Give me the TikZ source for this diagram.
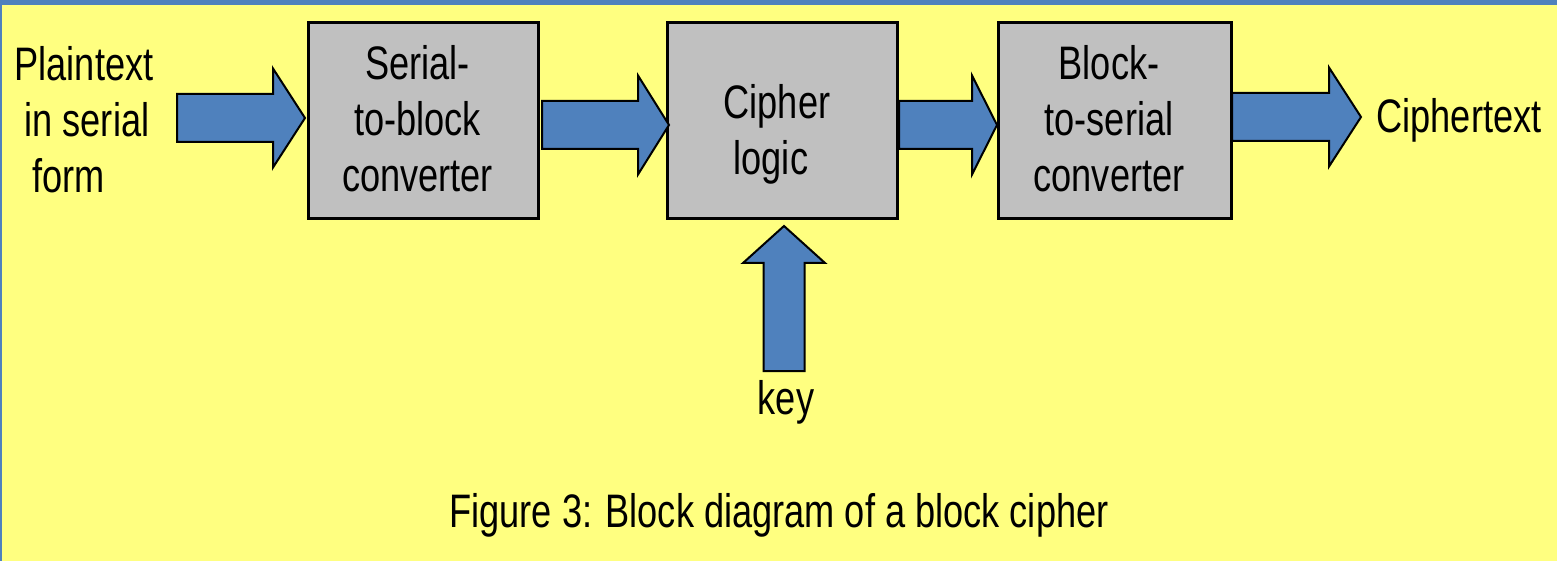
\documentclass[tikz,border=0pt]{standalone}
\usepackage{fontspec}
\usetikzlibrary{calc}
\newfontfamily\diagfont[FakeStretch=0.77]{Liberation Sans}

\definecolor{paper}{HTML}{FFFF80}
\definecolor{frameblue}{HTML}{4F81BD}
\definecolor{arrowblue}{HTML}{4F81BD}
\definecolor{boxgray}{HTML}{C0C0C0}

\tikzset{
  blk/.style={draw=black, fill=boxgray, line width=1.5pt, rectangle,
    minimum height=98pt, inner sep=0pt},
  txt/.style={font=\diagfont\fontsize{23.5}{28}\selectfont, align=center,
    inner sep=0pt, text=black},
  fatarrow/.style={draw=black, fill=arrowblue, line width=1pt, line join=miter},
}

% horizontal block arrow: tail coordinate, tip coordinate, head length
\newcommand\harrow[3]{%
  \path[fatarrow] let \p1=(#1), \p2=(#2) in
    (\x1,\y1+12pt) -- (\x2-#3,\y1+12pt) -- (\x2-#3,\y1+24.75pt) -- (\x2,\y1)
    -- (\x2-#3,\y1-24.75pt) -- (\x2-#3,\y1-12pt) -- (\x1,\y1-12pt) -- cycle;}
% vertical block arrow pointing up: tail coordinate, tip coordinate
\newcommand\uparrowshape[2]{%
  \path[fatarrow] let \p1=(#1), \p2=(#2) in
    (\x1-10.25pt,\y1) -- (\x1-10.25pt,\y2-18.5pt) -- (\x1-20.5pt,\y2-18.5pt)
    -- (\x1,\y2) -- (\x1+20.5pt,\y2-18.5pt) -- (\x1+10.25pt,\y2-18.5pt)
    -- (\x1+10.25pt,\y1) -- cycle;}

\begin{document}
\begin{tikzpicture}[x=0.5pt,y=-0.5pt]
  % page, frame
  \useasboundingbox (0,0) rectangle (1557,561);
  \fill[paper] (0,0) rectangle (1557,561);
  \fill[frameblue] (0,0) rectangle (1557,5);
  \fill[frameblue] (0,0) rectangle (1.5,561);

  % processing blocks
  \node[blk, minimum width=115pt] (s2b) at (423.5,120.5) {};
  \node[blk, minimum width=115pt] (ciph) at (782.5,120.5) {};
  \node[blk, minimum width=116.5pt] (b2s) at (1115,120.5) {};

  % labels
  \node[txt, align=left] (plain) at (84,119.5)
    {Plaintext\\\hspace*{5pt}in serial\\\hspace*{9pt}form};
  \node[txt] (s2bt) at (417.5,118.5) {Serial-\\to-block\\converter};
  \node[txt, align=left] (cipht) at (777,134) {Cipher\\\hspace*{5pt}logic};
  \node[txt] (b2st) at (1109,118.5) {Block-\\to-serial\\converter};
  \node[txt] (out) at (1459,120) {Ciphertext};
  \node[txt] (key) at (786,402.5) {key};
  \node[txt] (cap) at (779,515.5) {Figure 3: Block diagram of a block cipher};

  % arrow end points
  \coordinate (a1s) at (177,118);  \coordinate (a1e) at (305,118);
  \coordinate (a2s) at (542,125);  \coordinate (a2e) at (669,125);
  \coordinate (a3s) at (899,125);  \coordinate (a3e) at (997,125);
  \coordinate (a4s) at (1232,117); \coordinate (a4e) at (1361,117);
  \coordinate (k1) at (784,371);   \coordinate (k2) at (784,226);

  % data flow
  \harrow{a1s}{a1e}{16pt}
  \harrow{a2s}{a2e}{15.5pt}
  \harrow{a3s}{a3e}{12.5pt}
  \harrow{a4s}{a4e}{16pt}
  \uparrowshape{k1}{k2}
\end{tikzpicture}
\end{document}
